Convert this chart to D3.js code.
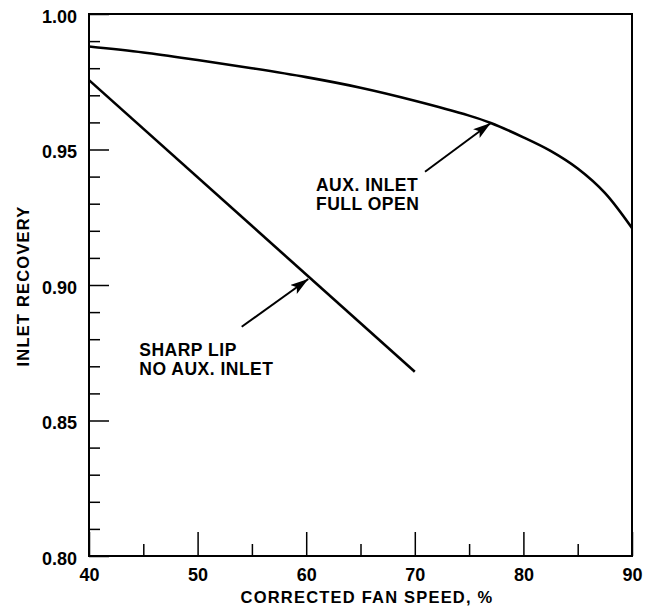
<!DOCTYPE html>
<html>
<head>
<meta charset="utf-8">
<script src="https://cdn.jsdelivr.net/npm/d3@7"></script>
<style>
  body { margin: 0; background: #fff; }
  text { font-family: "Liberation Sans", Arial, sans-serif; font-weight: bold; fill: #000; }
</style>
</head>
<body>
<svg id="chart" width="653" height="609"></svg>
<script>
// fan speed (%) and inlet recovery
var auxSpeed = [40, 45, 50, 55, 60, 65, 70, 75, 77, 80, 82.5, 85, 87.5, 90];
var auxRecovery = [0.988, 0.9858, 0.983, 0.980, 0.9767, 0.9728, 0.968, 0.9625, 0.9598, 0.9545, 0.9495, 0.943, 0.934, 0.921];
var sharpSpeed = [40, 70];
var sharpRecovery = [0.9756, 0.868];

var xMajor = [40, 50, 60, 70, 80, 90];
var xMinor = [45, 55, 65, 75, 85];
var yMajor = [0.80, 0.85, 0.90, 0.95, 1.00];
var yMinor = [0.81, 0.82, 0.83, 0.84, 0.86, 0.87, 0.88, 0.89, 0.91, 0.92, 0.93, 0.94, 0.96, 0.97, 0.98, 0.99];

var marginLeft = 89, marginTop = 14, width = 543, height = 542;

var svg = d3.select("#chart");
var g = svg.append("g").attr("transform", "translate(" + marginLeft + "," + marginTop + ")");

var x = d3.scaleLinear().domain([40, 90]).range([0, width]);
var y = d3.scaleLinear().domain([0.80, 1.00]).range([height, 0]);

// ticks point into the plot
g.append("g")
  .attr("transform", "translate(0," + height + ")")
  .call(d3.axisBottom(x).tickValues(xMajor).tickSize(-24).tickPadding(12).tickFormat(d3.format("d")))
  .call(function(a) { a.select(".domain").remove(); });
g.append("g")
  .attr("transform", "translate(0," + height + ")")
  .call(d3.axisBottom(x).tickValues(xMinor).tickSize(-12).tickFormat(""))
  .call(function(a) { a.select(".domain").remove(); });
var yAxis = g.append("g")
  .call(d3.axisLeft(y).tickValues(yMajor).tickSize(-20).tickPadding(12).tickFormat(d3.format(".2f")))
  .call(function(a) { a.select(".domain").remove(); });
g.append("g")
  .call(d3.axisLeft(y).tickValues(yMinor).tickSize(-11).tickFormat(""))
  .call(function(a) { a.select(".domain").remove(); });

g.selectAll(".tick line").attr("stroke", "#000").attr("stroke-width", 1.5);
g.selectAll(".tick text").style("font-size", "18px").attr("font-family", null);
yAxis.selectAll(".tick text").attr("dy", "0.45em");

// frame
g.append("rect")
  .attr("width", width).attr("height", height)
  .attr("fill", "none").attr("stroke", "#000").attr("stroke-width", 2);

var line = d3.line()
  .x(function(d) { return x(d[0]); })
  .y(function(d) { return y(d[1]); })
  .curve(d3.curveCatmullRom.alpha(0.5));

g.append("path")
  .datum(d3.zip(auxSpeed, auxRecovery))
  .attr("d", line)
  .attr("fill", "none").attr("stroke", "#000").attr("stroke-width", 2.6);

g.append("path")
  .datum(d3.zip(sharpSpeed, sharpRecovery))
  .attr("d", line)
  .attr("fill", "none").attr("stroke", "#000").attr("stroke-width", 2.6);

// arrows
svg.append("defs").append("marker")
  .attr("id", "head")
  .attr("markerUnits", "userSpaceOnUse")
  .attr("markerWidth", 20).attr("markerHeight", 12)
  .attr("refX", 18).attr("refY", 5.5)
  .attr("orient", "auto")
  .append("path")
  .attr("d", "M0,0 L18,5.5 L0,11 L4,5.5 Z")
  .attr("fill", "#000");

var arrows = [
  { from: [70.94, 0.9418], to: [77.0, 0.9598] },
  { from: [54.06, 0.8846], to: [60.19, 0.9022] }
];
g.selectAll(".arrow")
  .data(arrows)
  .enter()
  .append("line")
  .attr("x1", function(d) { return x(d.from[0]); })
  .attr("y1", function(d) { return y(d.from[1]); })
  .attr("x2", function(d) { return x(d.to[0]); })
  .attr("y2", function(d) { return y(d.to[1]); })
  .attr("stroke", "#000").attr("stroke-width", 2)
  .attr("marker-end", "url(#head)");

var notes = [
  { at: [60.9, 0.9348], lines: ["AUX. INLET", "FULL OPEN"] },
  { at: [44.63, 0.8739], lines: ["SHARP LIP", "NO AUX. INLET"] }
];
notes.forEach(function(n) {
  var t = g.append("text")
    .attr("x", x(n.at[0]))
    .attr("y", y(n.at[1]))
    .style("font-size", "17.5px")
    .style("letter-spacing", "0.5px");
  n.lines.forEach(function(s, i) {
    t.append("tspan").attr("x", x(n.at[0])).attr("dy", i === 0 ? 0 : 19).text(s);
  });
});

// axis titles
svg.append("text")
  .attr("x", 367).attr("y", 603)
  .attr("text-anchor", "middle")
  .style("font-size", "16.5px")
  .style("letter-spacing", "1.2px")
  .text("CORRECTED FAN SPEED, %");

svg.append("text")
  .attr("transform", "translate(28.5,286) rotate(-90)")
  .attr("text-anchor", "middle")
  .style("font-size", "16.5px")
  .style("letter-spacing", "1.2px")
  .text("INLET RECOVERY");
</script>
</body>
</html>
